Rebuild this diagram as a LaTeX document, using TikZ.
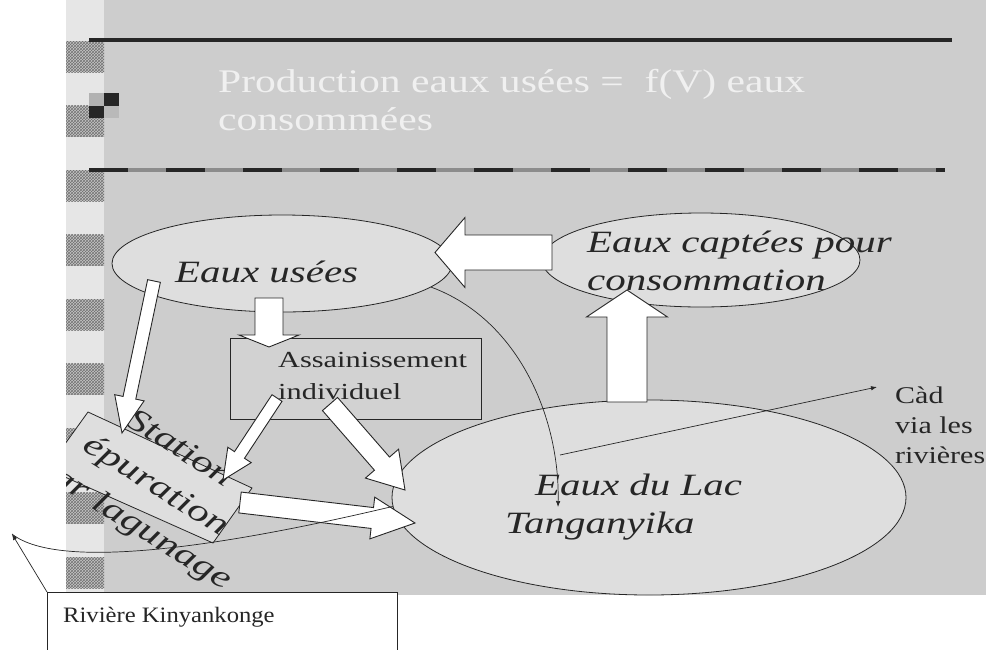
\documentclass[tikz,border=0pt]{standalone}
\usepackage{fontspec}
\usetikzlibrary{calc,shapes.geometric,patterns,arrows.meta}
\newfontfamily\fT{Liberation Serif}[FakeStretch=1.26]
\newfontfamily\fA{Liberation Serif}[FakeStretch=1.32]
\newfontfamily\fR{Liberation Serif}[FakeStretch=1.12]
\newfontfamily\fC{Liberation Serif}[FakeStretch=1.25]
\definecolor{bg}{HTML}{CDCDCD}
\definecolor{lite}{HTML}{DEDEDE}
\definecolor{strip}{HTML}{E6E6E6}
\definecolor{ink}{HTML}{262626}
\newcommand\bkarrow[5]{%
  \coordinate (hb) at ($(#2)!#5!(#1)$);
  \draw[blk] ($(#1)!#3!90:(#2)$) -- ($(hb)!#3!90:(#2)$) -- ($(hb)!#4!90:(#2)$) -- (#2)
    -- ($(hb)!#4!-90:(#2)$) -- ($(hb)!#3!-90:(#2)$) -- ($(#1)!#3!-90:(#2)$) -- cycle;}
\tikzset{
  blk/.style={draw=ink, fill=white, line width=0.9pt, line join=miter},
  ell/.style={ellipse, draw=ink, line width=0.8pt, fill=lite, inner sep=0pt},
  thinline/.style={draw=ink, line width=0.7pt},
  tip/.style={-{Latex[length=6pt,width=4.5pt]}},
  lbl/.style={anchor=base west, inner sep=0pt, text=ink},
  itl/.style={lbl, font=\fA\itshape\fontsize{31}{36}\selectfont},
  upr/.style={lbl, font=\fA\fontsize{23}{28}\selectfont},
  ttl/.style={lbl, text=white!94!black, font=\fT\fontsize{33}{38}\selectfont},
  sttxt/.style={anchor=base, inner sep=0pt, text=ink, rotate=-32, font=\fA\itshape\fontsize{32}{36}\selectfont}
}
\begin{document}
\begin{tikzpicture}[x=1pt,y=-1pt]
\useasboundingbox (0,0) rectangle (986,649);
\clip (0,0) rectangle (986,649);
\fill[white] (0,0) rectangle (986,649);
% slide background
\fill[bg] (66,0) rectangle (986,595);
\fill[strip] (66,0) rectangle (104,595);
\foreach \y in {41,105.5,...,560} {
  \fill[gray!45] (66,\y) rectangle (104,\y+31);
  \fill[pattern=crosshatch, pattern color=black!55] (66,\y) rectangle (104,\y+31);
}
% icon
\fill[gray!60] (89,93) rectangle (104,105.5);
\fill[black!85] (104,93) rectangle (119,105.5);
\fill[black!85] (89,105.5) rectangle (104,118);
\fill[gray!55] (104,105.5) rectangle (119,118);
% rules
\draw[line width=4pt, ink] (89,39.5) -- (952,39.5);
\draw[line width=4pt, black!45] (89,170) -- (945,170);
\draw[line width=4pt, ink, dash pattern=on 38.5pt off 38.5pt] (89,170) -- (945,170);
% title
\node[ttl] (t1) at (218,92) {Production eaux usées = \ f(V) eaux};
\node[ttl] (t2) at (218,130) {consommées};
% ellipses
\node[ell, minimum width=340pt, minimum height=97pt] (usees) at (282,263.5) {};
\node[ell, minimum width=318pt, minimum height=94pt] (captees) at (701,260) {};
\node[ell, minimum width=514pt, minimum height=195pt] (lac) at (649,497.5) {};
% Assainissement box
\node[draw=ink, fill=bg!70!lite, line width=0.8pt, minimum width=251pt, minimum height=81pt, inner sep=0pt] (assain) at (355.5,378.5) {};
\node[upr] (as1) at (278,367) {Assainissement};
\node[upr] (as2) at (278,399) {individuel};
% Station box
\begin{scope}
\clip (66,0) rectangle (986,649);
\draw[ink, fill=lite, line width=0.8pt] (88,412) -- (252,488) -- (213,543) -- (47,469) -- cycle;
\node[sttxt] (st1) at (175,456) {Station};
\node[sttxt] (st2) at (151.6,493.3) {épuration};
\node[sttxt] (st3) at (128.2,530.6) {par lagunage};
\end{scope}
% block arrows
\coordinate (a1t) at (552,252.5); \coordinate (a1h) at (435,252.5);
\coordinate (a2t) at (269,298);   \coordinate (a2h) at (269,347);
\coordinate (a3t) at (154,281);   \coordinate (a3h) at (122,433);
\coordinate (a4t) at (277,398);   \coordinate (a4h) at (223,480);
\coordinate (a5t) at (330,404);   \coordinate (a5h) at (405,490);
\coordinate (a6t) at (240,502.5); \coordinate (a6h) at (415,523);
\coordinate (a7t) at (627,402);   \coordinate (a7h) at (627,290);
\bkarrow{a1t}{a1h}{17.5pt}{35pt}{30pt}
\bkarrow{a2t}{a2h}{14pt}{30pt}{12pt}
\bkarrow{a3t}{a3h}{6.5pt}{15pt}{36pt}
\bkarrow{a4t}{a4h}{6pt}{14pt}{30pt}
\bkarrow{a5t}{a5h}{10pt}{22pt}{35pt}
\bkarrow{a6t}{a6h}{10.5pt}{21pt}{43pt}
\bkarrow{a7t}{a7h}{20pt}{40.5pt}{27pt}
% ellipse labels
\node[itl] (u1) at (175,282) {Eaux usées};
\node[itl] (c1) at (587,252) {Eaux captées pour};
\node[itl] (c2) at (587,290) {consommation};
\node[itl] (l1) at (535,495) {Eaux du Lac};
\node[itl] (l2) at (505,533) {Tanganyika};
% thin connectors
\coordinate (lacin) at (558,507);
\draw[thinline, tip] (usees.-9) .. controls (520,320) and (560,420) .. (lacin);
\coordinate (lacin2) at (560,455);
\coordinate (cadpt) at (877,387);
\draw[thinline, tip] (lacin2) -- (cadpt);
\node[lbl, font=\fC\fontsize{24}{30}\selectfont] (cad1) at (895,403) {Càd};
\node[lbl, font=\fC\fontsize{24}{30}\selectfont] (cad2) at (895,433) {via les};
\node[lbl, font=\fC\fontsize{24}{30}\selectfont] (cad3) at (895,463) {rivières};
% river
\coordinate (rivtip) at (12,534);
\draw[thinline] (lac.182) .. controls (230,545) and (60,572) .. (rivtip);
\node[draw=ink, fill=white, line width=0.8pt, minimum width=350pt, minimum height=75pt, inner sep=0pt, anchor=north west] (riv) at (47,592) {};
\node[lbl, font=\fR\fontsize{22}{26}\selectfont] (rivtxt) at (63,622) {Rivière Kinyankonge};
\draw[thinline, tip] (riv.north west) -- (rivtip);
\end{tikzpicture}
\end{document}
